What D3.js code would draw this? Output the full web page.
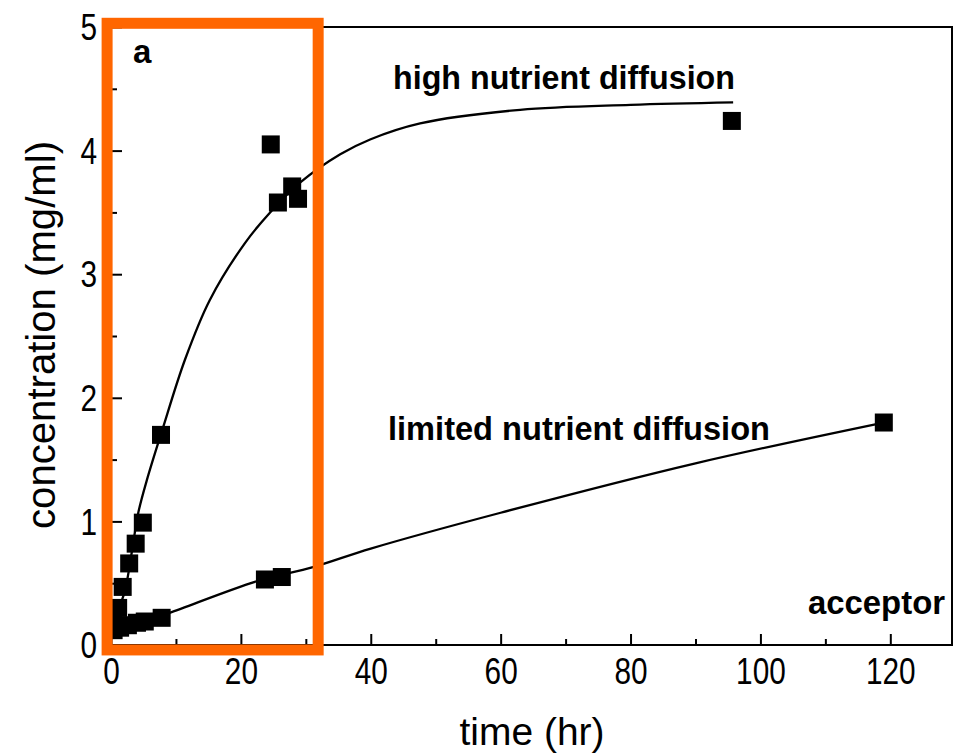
<!DOCTYPE html>
<html>
<head>
<meta charset="utf-8">
<script src="https://cdn.jsdelivr.net/npm/d3@7"></script>
<style>
  body { margin: 0; background: #fff; }
  svg { display: block; }
  .tick text { font-family: "Liberation Sans", Arial, sans-serif; font-size: 36px; fill: #000; }
  .domain { display: none; }
</style>
</head>
<body>
<svg id="chart"></svg>
<script>
// high nutrient diffusion: measured points
const highTime = [0.3, 1.1, 1.8, 2.8, 3.8, 4.9, 7.7, 24.6, 25.7, 27.9, 28.8, 95.6];
const highConc = [0.17, 0.30, 0.47, 0.66, 0.82, 0.99, 1.70, 4.05, 3.58, 3.71, 3.61, 4.24];
// high nutrient diffusion: fitted line
const highFitTime = [0.3, 1.4, 2.2, 3.2, 4.2, 5.5, 7.9, 11.4, 15.2, 20.6, 24.5, 29.1, 35.3, 39.9, 47.6, 63, 80, 95.8];
const highFitConc = [0.15, 0.32, 0.45, 0.75, 1.07, 1.33, 1.74, 2.31, 2.79, 3.25, 3.50, 3.74, 3.97, 4.09, 4.22, 4.33, 4.37, 4.39];

// limited nutrient diffusion
const limTime = [0.4, 1.4, 2.6, 4.0, 5.2, 7.8, 23.7, 26.3, 119.0];
const limConc = [0.12, 0.14, 0.16, 0.18, 0.19, 0.22, 0.53, 0.55, 1.80];
const limFitTime = [0.4, 4, 9, 22.7, 31.1, 40, 60, 90, 119.0];
const limFitConc = [0.11, 0.17, 0.26, 0.52, 0.63, 0.78, 1.07, 1.47, 1.80];

const xMajor = [0, 20, 40, 60, 80, 100, 120];
const xMinor = [10, 30, 50, 70, 90, 110];
const yMajor = [0, 1, 2, 3, 4, 5];
const yMinor = [0.5, 1.5, 2.5, 3.5, 4.5];

// highlighted window (orange box)
const boxTime = [-0.6, 31.9];
const boxConc = [-0.04, 5.03];

const svgWidth = 956, svgHeight = 756;
const margin = { top: 27, bottom: 111, left: 111, right: 4 };

const svg = d3.select('#chart')
  .attr('width', svgWidth)
  .attr('height', svgHeight);

const xScale = d3.scaleLinear().domain([0, 129.5]).range([margin.left, svgWidth - margin.right]);
const yScale = d3.scaleLinear().domain([0, 5]).range([svgHeight - margin.bottom, margin.top]);

// squeeze text to a narrow face (no Arial Narrow installed)
function narrowText(sel, size) {
  sel.each(function () {
    const n = this.textContent.length;
    d3.select(this)
      .attr('textLength', n * 0.46 * size)
      .attr('lengthAdjust', 'spacingAndGlyphs');
  });
}

// frame
svg.append('rect')
  .attr('x', xScale(0)).attr('y', yScale(5))
  .attr('width', xScale(129.5) - xScale(0))
  .attr('height', yScale(0) - yScale(5))
  .attr('fill', 'none').attr('stroke', '#000').attr('stroke-width', 2);

// axes, ticks pointing inward
const gX = svg.append('g')
  .attr('transform', 'translate(0,' + yScale(0) + ')')
  .call(d3.axisBottom(xScale).tickValues(xMajor).tickSize(-11).tickPadding(13));
svg.append('g')
  .attr('transform', 'translate(0,' + yScale(0) + ')')
  .call(d3.axisBottom(xScale).tickValues(xMinor).tickSize(-6).tickFormat(''));
const gY = svg.append('g')
  .attr('transform', 'translate(' + xScale(0) + ',0)')
  .call(d3.axisLeft(yScale).tickValues(yMajor).tickSize(-11).tickPadding(14).tickFormat(d3.format('d')));
svg.append('g')
  .attr('transform', 'translate(' + xScale(0) + ',0)')
  .call(d3.axisLeft(yScale).tickValues(yMinor).tickSize(-6).tickFormat(''));
svg.selectAll('.tick line').attr('stroke', '#000').attr('stroke-width', 2);
gY.selectAll('.tick text').attr('dy', '0.35em');
narrowText(gX.selectAll('.tick text'), 36);
narrowText(gY.selectAll('.tick text'), 36);

// fitted lines
const line = d3.line()
  .x(d => xScale(d[0]))
  .y(d => yScale(d[1]))
  .curve(d3.curveCatmullRom);

svg.append('path')
  .datum(d3.zip(highFitTime, highFitConc))
  .attr('d', line)
  .attr('fill', 'none').attr('stroke', '#000').attr('stroke-width', 2.3);
svg.append('path')
  .datum(d3.zip(limFitTime, limFitConc))
  .attr('d', line)
  .attr('fill', 'none').attr('stroke', '#000').attr('stroke-width', 2.3);

// square markers
const sq = 18;
const points = d3.zip(highTime, highConc).concat(d3.zip(limTime, limConc));
svg.selectAll('rect.pt')
  .data(points)
  .enter()
  .append('rect')
  .attr('class', 'pt')
  .attr('x', d => xScale(d[0]) - sq / 2)
  .attr('y', d => yScale(d[1]) - sq / 2)
  .attr('width', sq).attr('height', sq)
  .attr('fill', '#000');

// labels
const boldFont = '"Liberation Sans", Arial, sans-serif';
function label(text, x, y, width) {
  const t = svg.append('text')
    .attr('x', x).attr('y', y)
    .attr('font-family', boldFont)
    .attr('font-weight', 'bold')
    .attr('font-size', 33)
    .text(text);
  if (width) t.attr('textLength', width).attr('lengthAdjust', 'spacingAndGlyphs');
}
label('a', 133, 63);
label('high nutrient diffusion', 393, 89, 342);
label('limited nutrient diffusion', 388, 440, 382);
label('acceptor', 808, 614, 137);

svg.append('text')
  .attr('x', 532)
  .attr('y', 745)
  .attr('text-anchor', 'middle')
  .attr('font-family', boldFont)
  .attr('font-size', 39)
  .attr('textLength', 145)
  .attr('lengthAdjust', 'spacingAndGlyphs')
  .text('time (hr)');
svg.append('text')
  .attr('transform', 'translate(55,335) rotate(-90)')
  .attr('text-anchor', 'middle')
  .attr('font-family', boldFont)
  .attr('font-size', 40)
  .attr('textLength', 388)
  .attr('lengthAdjust', 'spacingAndGlyphs')
  .text('concentration (mg/ml)');

// orange highlight box
svg.append('rect')
  .attr('x', xScale(boxTime[0]))
  .attr('y', yScale(boxConc[1]))
  .attr('width', xScale(boxTime[1]) - xScale(boxTime[0]))
  .attr('height', yScale(boxConc[0]) - yScale(boxConc[1]))
  .attr('fill', 'none')
  .attr('stroke', '#ff6600')
  .attr('stroke-width', 11);
</script>
</body>
</html>
